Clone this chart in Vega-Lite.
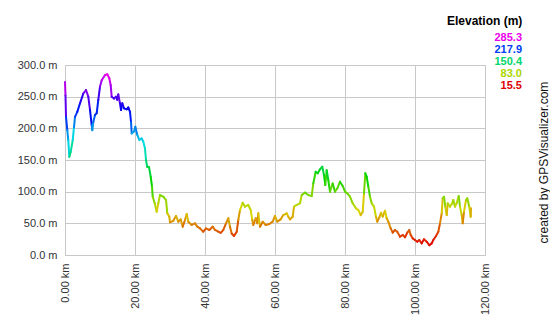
{
  "$schema": "https://vega.github.io/schema/vega-lite/v6.json",
  "autosize": {"type": "none"},
  "padding": {"left": 65, "top": 65, "right": 65, "bottom": 65},
  "width": 420,
  "height": 190,
  "background": "white",
  "config": {
    "view": {"stroke": "#c8c8c8", "strokeWidth": 1},
    "font": "Liberation Sans"
  },
  "data": {
    "values": [
      {"d": 0.0, "e": 273}, {"d": 0.14, "e": 252}, {"d": 0.29, "e": 218}, {"d": 0.66, "e": 197}, {"d": 0.94, "e": 181},
      {"d": 1.23, "e": 155}, {"d": 1.63, "e": 163}, {"d": 2.2, "e": 181}, {"d": 2.57, "e": 202}, {"d": 2.86, "e": 218},
      {"d": 3.51, "e": 226}, {"d": 4.29, "e": 239.5}, {"d": 5.23, "e": 255}, {"d": 6.0, "e": 260.5}, {"d": 6.66, "e": 250},
      {"d": 7.14, "e": 229}, {"d": 7.63, "e": 205}, {"d": 7.8, "e": 197}, {"d": 8.09, "e": 210}, {"d": 8.57, "e": 221},
      {"d": 9.06, "e": 224}, {"d": 9.51, "e": 245}, {"d": 10.0, "e": 266}, {"d": 10.49, "e": 276}, {"d": 11.43, "e": 284},
      {"d": 12.09, "e": 285.3}, {"d": 12.66, "e": 279}, {"d": 13.06, "e": 268}, {"d": 13.34, "e": 250}, {"d": 14.0, "e": 247},
      {"d": 14.57, "e": 250}, {"d": 14.94, "e": 245}, {"d": 15.23, "e": 253.6}, {"d": 15.71, "e": 239.5}, {"d": 16.0, "e": 229},
      {"d": 16.37, "e": 239.5}, {"d": 16.86, "e": 231.6}, {"d": 17.63, "e": 230}, {"d": 18.09, "e": 233}, {"d": 18.57, "e": 226},
      {"d": 18.86, "e": 210}, {"d": 19.06, "e": 192}, {"d": 19.71, "e": 195}, {"d": 20.09, "e": 202.6}, {"d": 20.66, "e": 189.5},
      {"d": 21.23, "e": 181.6}, {"d": 21.91, "e": 184}, {"d": 22.37, "e": 179}, {"d": 22.86, "e": 168}, {"d": 23.14, "e": 150},
      {"d": 23.51, "e": 139}, {"d": 24.0, "e": 139}, {"d": 24.49, "e": 123.6}, {"d": 24.86, "e": 108}, {"d": 25.06, "e": 92},
      {"d": 25.63, "e": 81.6}, {"d": 26.2, "e": 68.4}, {"d": 26.66, "e": 81.6}, {"d": 27.14, "e": 94.7}, {"d": 28.09, "e": 92},
      {"d": 28.86, "e": 86.8}, {"d": 29.23, "e": 65.8}, {"d": 29.8, "e": 60.5}, {"d": 30.0, "e": 51.6}, {"d": 30.94, "e": 54},
      {"d": 31.71, "e": 61.6}, {"d": 32.37, "e": 52.6}, {"d": 33.06, "e": 56.3}, {"d": 33.63, "e": 44.7}, {"d": 34.29, "e": 55.3},
      {"d": 34.77, "e": 64.7}, {"d": 35.23, "e": 52.6}, {"d": 36.2, "e": 47.4}, {"d": 37.14, "e": 50}, {"d": 37.8, "e": 44.7},
      {"d": 38.57, "e": 42}, {"d": 39.51, "e": 36.8}, {"d": 40.29, "e": 42}, {"d": 41.23, "e": 39.5}, {"d": 42.2, "e": 44.7},
      {"d": 42.86, "e": 39.5}, {"d": 43.8, "e": 36.8}, {"d": 44.49, "e": 35}, {"d": 45.23, "e": 39.5}, {"d": 46.0, "e": 50},
      {"d": 46.66, "e": 58}, {"d": 47.14, "e": 44.7}, {"d": 47.63, "e": 34}, {"d": 48.29, "e": 30}, {"d": 49.06, "e": 36.8},
      {"d": 49.51, "e": 55.3}, {"d": 50.0, "e": 71}, {"d": 50.77, "e": 82.6}, {"d": 51.43, "e": 76.3}, {"d": 52.37, "e": 79},
      {"d": 53.06, "e": 71}, {"d": 53.51, "e": 55.3}, {"d": 53.8, "e": 47.4}, {"d": 54.49, "e": 58}, {"d": 54.94, "e": 50},
      {"d": 55.23, "e": 65.8}, {"d": 55.71, "e": 44.7}, {"d": 56.49, "e": 52.6}, {"d": 57.34, "e": 47.4}, {"d": 58.37, "e": 49},
      {"d": 59.34, "e": 52.6}, {"d": 60.0, "e": 61.6}, {"d": 60.66, "e": 52.6}, {"d": 61.63, "e": 56.3}, {"d": 62.37, "e": 63},
      {"d": 63.34, "e": 65.8}, {"d": 63.8, "e": 60.5}, {"d": 64.29, "e": 56.3}, {"d": 65.06, "e": 60.5}, {"d": 65.43, "e": 76.3},
      {"d": 66.2, "e": 79}, {"d": 67.14, "e": 81.6}, {"d": 67.63, "e": 94.7}, {"d": 68.57, "e": 98.4}, {"d": 69.51, "e": 94.7},
      {"d": 70.49, "e": 93}, {"d": 70.94, "e": 113}, {"d": 71.63, "e": 131.5}, {"d": 72.2, "e": 129}, {"d": 72.86, "e": 135.3},
      {"d": 73.51, "e": 139.4}, {"d": 74.0, "e": 126.3}, {"d": 74.37, "e": 110.5}, {"d": 74.77, "e": 134}, {"d": 75.23, "e": 118.4},
      {"d": 75.71, "e": 100}, {"d": 76.49, "e": 113}, {"d": 77.14, "e": 100}, {"d": 77.8, "e": 105}, {"d": 78.57, "e": 115.8},
      {"d": 79.34, "e": 109}, {"d": 80.0, "e": 100}, {"d": 80.66, "e": 97.4}, {"d": 81.43, "e": 92}, {"d": 82.2, "e": 81.6},
      {"d": 83.14, "e": 73.7}, {"d": 83.8, "e": 71}, {"d": 84.49, "e": 63}, {"d": 85.06, "e": 68.4}, {"d": 85.43, "e": 97.4},
      {"d": 85.8, "e": 129}, {"d": 86.2, "e": 123.6}, {"d": 86.66, "e": 108}, {"d": 87.14, "e": 92}, {"d": 87.63, "e": 81.6},
      {"d": 88.29, "e": 76.3}, {"d": 88.86, "e": 60.5}, {"d": 89.23, "e": 52.6}, {"d": 89.8, "e": 59.5}, {"d": 90.29, "e": 66.8},
      {"d": 90.77, "e": 60.5}, {"d": 91.43, "e": 70}, {"d": 91.91, "e": 58}, {"d": 92.37, "e": 52.6}, {"d": 93.06, "e": 42},
      {"d": 93.63, "e": 35.3}, {"d": 94.29, "e": 39.5}, {"d": 94.94, "e": 36.8}, {"d": 95.71, "e": 29}, {"d": 96.49, "e": 31.6},
      {"d": 97.14, "e": 28}, {"d": 97.8, "e": 35.3}, {"d": 98.37, "e": 39.5}, {"d": 98.77, "e": 31.6}, {"d": 99.34, "e": 26.3},
      {"d": 100.0, "e": 23.7}, {"d": 100.66, "e": 21}, {"d": 101.23, "e": 23.7}, {"d": 101.91, "e": 18.4}, {"d": 102.57, "e": 24.7},
      {"d": 103.34, "e": 21}, {"d": 104.09, "e": 15.5}, {"d": 104.77, "e": 18.4}, {"d": 105.23, "e": 23.7}, {"d": 106.0, "e": 30},
      {"d": 106.66, "e": 36.8}, {"d": 107.14, "e": 50}, {"d": 107.63, "e": 65.8}, {"d": 107.91, "e": 89.5}, {"d": 108.29, "e": 92},
      {"d": 108.66, "e": 76.3}, {"d": 109.06, "e": 63}, {"d": 109.34, "e": 81.6}, {"d": 110.0, "e": 76.3}, {"d": 110.49, "e": 80.5},
      {"d": 110.94, "e": 86.8}, {"d": 111.43, "e": 76.3}, {"d": 111.91, "e": 81.6}, {"d": 112.49, "e": 93}, {"d": 112.86, "e": 76.3},
      {"d": 113.34, "e": 63}, {"d": 113.63, "e": 50}, {"d": 114.0, "e": 68.4}, {"d": 114.57, "e": 86.8}, {"d": 114.94, "e": 89.5},
      {"d": 115.51, "e": 76.3}, {"d": 115.91, "e": 60.5}, {"d": 116.0, "e": 74}
    ]
  },
  "transform": [
    {"window": [{"op": "lead", "field": "d", "as": "d2"}, {"op": "lead", "field": "e", "as": "e2"}], "sort": [{"field": "d"}]},
    {"filter": "datum.d2 != null"}
  ],
  "mark": {"type": "rule", "strokeWidth": 2, "strokeCap": "round"},
  "encoding": {
    "x": {
      "field": "d", "type": "quantitative",
      "scale": {"domain": [0, 120], "nice": false, "zero": false},
      "axis": {
        "title": "created by GPSVisualizer.com",
        "titleX": 478, "titleY": -12, "titleAngle": 270, "titleAlign": "left", "titleBaseline": "middle",
        "titleFont": "Liberation Sans", "titleFontSize": 12, "titleFontWeight": "normal", "titleColor": "#111",
        "values": [0, 20, 40, 60, 80, 100, 120],
        "labelExpr": "format(datum.value, '.2f') + ' km'",
        "labelAngle": 270, "labelAlign": "right", "labelBaseline": "middle",
        "labelFont": "Liberation Sans", "labelFontSize": 11, "labelColor": "#333",
        "labelPadding": 8, "ticks": false, "domain": false,
        "grid": true, "gridColor": "#c8c8c8", "gridWidth": 1
      }
    },
    "x2": {"field": "d2"},
    "y": {
      "field": "e", "type": "quantitative",
      "scale": {"domain": [0, 300], "nice": false},
      "axis": {
        "title": null, "values": [0, 50, 100, 150, 200, 250, 300],
        "labelExpr": "format(datum.value, '.1f') + ' m'",
        "labelFont": "Liberation Sans", "labelFontSize": 11, "labelColor": "#333",
        "labelPadding": 8, "ticks": false, "domain": false,
        "grid": true, "gridColor": "#c8c8c8", "gridWidth": 1
      }
    },
    "y2": {"field": "e2"},
    "color": {
      "field": "e", "type": "quantitative",
      "scale": {
        "domain": [15.5, 83, 150.4, 217.9, 285.3],
        "range": ["hsl(0,100%,44%)", "hsl(72,100%,42%)", "hsl(150,100%,42%)", "hsl(225,100%,48%)", "hsl(300,100%,46%)"],
        "interpolate": "hsl"
      },
      "legend": {
        "type": "symbol",
        "orient": "none", "legendX": 382, "legendY": -49,
        "values": [285.3, 217.9, 150.4, 83, 15.5],
        "format": ".1f",
        "title": "Elevation (m)",
        "titleFont": "Liberation Sans", "titleFontSize": 12, "titleFontWeight": "bold", "titleColor": "#000",
        "titlePadding": 4,
        "labelFont": "Liberation Sans", "labelFontSize": 11, "labelFontWeight": "bold",
        "labelAlign": "right", "labelOffset": 64,
        "symbolSize": 0, "symbolOpacity": 0, "symbolStrokeWidth": 0,
        "rowPadding": 0, "padding": 0,
        "encode": {"labels": {"update": {"fill": {"scale": "color", "field": "value"}}}}
      }
    }
  }
}
